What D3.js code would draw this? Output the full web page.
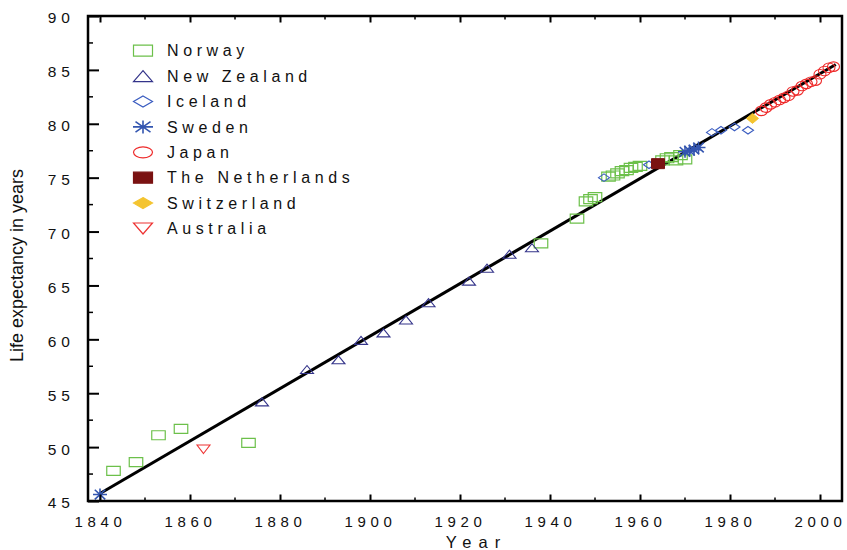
<!DOCTYPE html>
<html>
<head>
<meta charset="utf-8">
<script src="https://cdn.jsdelivr.net/npm/d3@7"></script>
<style>
  html, body { margin: 0; padding: 0; background: #fff; }
  svg { display: block; font-family: "Liberation Sans", Arial, sans-serif; }
</style>
</head>
<body>
<svg id="chart" width="847" height="550"></svg>
<script>
// Record female life expectancy: [calendar year, life expectancy in years]
const norway = [
  [1843, 47.8], [1848, 48.6], [1853, 51.1], [1858, 51.7], [1873, 50.4],
  [1938, 68.9], [1946, 71.2], [1948, 72.8], [1949, 73.0], [1950, 73.2],
  [1953, 75.1], [1954, 75.2], [1955, 75.4], [1956, 75.6], [1957, 75.7],
  [1958, 75.9], [1959, 76.0], [1960, 76.1], [1965, 76.6], [1966, 76.8],
  [1967, 76.9], [1968, 76.6], [1969, 77.1], [1970, 76.7]
];
const newZealand = [
  [1876, 54.2], [1886, 57.2], [1893, 58.1], [1898, 59.9], [1903, 60.6],
  [1908, 61.8], [1913, 63.4], [1922, 65.4], [1926, 66.6], [1931, 67.9],
  [1936, 68.5]
];
const iceland = [
  [1952, 75.0], [1962, 76.2], [1976, 79.2], [1978, 79.4], [1981, 79.7], [1984, 79.4]
];
const sweden = [
  [1840, 45.6], [1970, 77.4], [1971, 77.5], [1972, 77.6], [1973, 77.8]
];
const japan = [
  [1987, 81.2], [1988, 81.5], [1989, 81.8], [1990, 82.0], [1991, 82.2],
  [1992, 82.4], [1993, 82.6], [1994, 83.0], [1995, 83.1], [1996, 83.5],
  [1997, 83.7], [1998, 83.9], [1999, 84.0], [2000, 84.6], [2001, 84.9],
  [2002, 85.2], [2003, 85.3]
];
const netherlands = [[1964, 76.3]];
const switzerland = [[1985, 80.5]];
const australia = [[1863, 49.8]];

// Linear trend of the record values
const trend = [[1840, 45.7], [2003.5, 85.5]];

// Axis ticks
const xMajorTicks = [1840, 1860, 1880, 1900, 1920, 1940, 1960, 1980, 2000];
const xMinorTicks = [1850, 1870, 1890, 1910, 1930, 1950, 1970, 1990];
const yMajorTicks = [45, 50, 55, 60, 65, 70, 75, 80, 85, 90];
const yMinorTicks = [47.5, 52.5, 57.5, 62.5, 67.5, 72.5, 77.5, 82.5, 87.5];

const legendNames = ["Norway", "New Zealand", "Iceland", "Sweden", "Japan",
                     "The Netherlands", "Switzerland", "Australia"];

const series = [
  { data: norway,      shape: "square",  stroke: "#6cc04a", fill: "none",    w: 13.5, h: 9,   sw: 1.2 },
  { data: newZealand,  shape: "triUp",   stroke: "#34348a", fill: "none",    w: 13,   h: 8,   sw: 1.1 },
  { data: iceland,     shape: "diamond", stroke: "#3a5cc0", fill: "none",    w: 11,   h: 7.5, sw: 1.1 },
  { data: sweden,      shape: "star",    stroke: "#3355b0", fill: "none",    w: 14,   h: 12,  sw: 1.6 },
  { data: japan,       shape: "circle",  stroke: "#ee2a2a", fill: "none",    w: 12,   h: 9.5, sw: 1.1 },
  { data: netherlands, shape: "square",  stroke: "#7a1212", fill: "#7a1212", w: 13,   h: 10,  sw: 1 },
  { data: switzerland, shape: "diamond", stroke: "#f4c430", fill: "#f4c430", w: 12,   h: 10,  sw: 1 },
  { data: australia,   shape: "triDown", stroke: "#ee3333", fill: "none",    w: 13,   h: 8.5, sw: 1.1 }
];

const svg = d3.select("#chart");
const plot = { left: 88, right: 842, top: 16, bottom: 501 };

const x = d3.scaleLinear().domain([1837.333, 2004.889]).range([plot.left, plot.right]);
const y = d3.scaleLinear().domain([45, 90]).range([plot.bottom, plot.top]);

// Marker outlines with independent width / height
function markerPath(shape, w, h) {
  const a = w / 2, b = h / 2;
  switch (shape) {
    case "square":  return `M${-a},${-b}H${a}V${b}H${-a}Z`;
    case "triUp":   return `M0,${-b}L${a},${b}L${-a},${b}Z`;
    case "triDown": return `M0,${b}L${a},${-b}L${-a},${-b}Z`;
    case "diamond": return `M0,${-b}L${a},0L0,${b}L${-a},0Z`;
    case "circle":  return `M${-a},0A${a},${b} 0 1,0 ${a},0A${a},${b} 0 1,0 ${-a},0Z`;
    case "star": {
      const da = a * 0.75, db = b * 0.8;
      return `M${-a},0H${a}M0,${-b}V${b}M${-da},${-db}L${da},${db}M${-da},${db}L${da},${-db}`;
    }
  }
}

// Trend line
svg.append("path")
  .datum(trend)
  .attr("fill", "none")
  .attr("stroke", "#000")
  .attr("stroke-width", 3)
  .attr("d", d3.line().x(d => x(d[0])).y(d => y(d[1])));

// Data markers
series.forEach(s => {
  svg.append("g")
    .selectAll("path")
    .data(s.data)
    .join("path")
    .attr("transform", d => `translate(${x(d[0])},${y(d[1])})`)
    .attr("d", markerPath(s.shape, s.w, s.h))
    .attr("fill", s.fill)
    .attr("stroke", s.stroke)
    .attr("stroke-width", s.sw);
});

// Bottom axis (ticks pointing inward)
const xAxisG = svg.append("g")
  .attr("transform", `translate(0,${plot.bottom})`)
  .call(d3.axisBottom(x).tickValues(xMajorTicks).tickSize(-6.5).tickPadding(20).tickFormat(d3.format("d")));
xAxisG.select(".domain").remove();
xAxisG.selectAll(".tick line").attr("stroke", "#000").attr("stroke-width", 2);
xAxisG.selectAll(".tick text")
  .attr("y", 26)
  .attr("dy", null)
  .style("font-family", "'Liberation Sans', Arial, sans-serif")
  .style("font-size", "15px")
  .style("letter-spacing", "4.6px")
  .attr("fill", "#111");
svg.append("g").selectAll("line")
  .data(xMinorTicks).join("line")
  .attr("x1", d => x(d)).attr("x2", d => x(d))
  .attr("y1", plot.bottom).attr("y2", plot.bottom - 3.5)
  .attr("stroke", "#000").attr("stroke-width", 1.5);

// Top axis ticks
const xTopG = svg.append("g")
  .attr("transform", `translate(0,${plot.top})`)
  .call(d3.axisTop(x).tickValues(xMajorTicks).tickSize(-6.5).tickFormat(""));
xTopG.select(".domain").remove();
xTopG.selectAll(".tick line").attr("stroke", "#000").attr("stroke-width", 2);
svg.append("g").selectAll("line")
  .data(xMinorTicks).join("line")
  .attr("x1", d => x(d)).attr("x2", d => x(d))
  .attr("y1", plot.top).attr("y2", plot.top + 3.5)
  .attr("stroke", "#000").attr("stroke-width", 1.5);

// Left axis
const yAxisG = svg.append("g")
  .attr("transform", `translate(${plot.left},0)`)
  .call(d3.axisLeft(y).tickValues(yMajorTicks).tickSize(-11).tickPadding(13).tickFormat(d3.format("d")));
yAxisG.select(".domain").remove();
yAxisG.selectAll(".tick line").attr("stroke", "#000").attr("stroke-width", 2);
yAxisG.selectAll(".tick text")
  .attr("dy", "0.45em")
  .style("font-family", "'Liberation Sans', Arial, sans-serif")
  .style("font-size", "15.5px")
  .style("letter-spacing", "5px")
  .attr("fill", "#111");
svg.append("g").selectAll("line")
  .data(yMinorTicks).join("line")
  .attr("x1", plot.left).attr("x2", plot.left + 5)
  .attr("y1", d => y(d)).attr("y2", d => y(d))
  .attr("stroke", "#000").attr("stroke-width", 1.5);

// Frame
svg.append("rect")
  .attr("x", plot.left).attr("y", plot.top)
  .attr("width", plot.right - plot.left).attr("height", plot.bottom - plot.top)
  .attr("fill", "none").attr("stroke", "#000").attr("stroke-width", 2.5);

// Axis titles
svg.append("text")
  .attr("x", 476.5).attr("y", 548)
  .attr("text-anchor", "middle")
  .style("font-size", "16.5px")
  .style("letter-spacing", "7px")
  .attr("fill", "#111")
  .text("Year");

svg.append("text")
  .attr("transform", "translate(22.5,265.5) rotate(-90)")
  .attr("text-anchor", "middle")
  .style("font-size", "18px")
  .attr("fill", "#111")
  .text("Life expectancy in years");

// Legend
const legendSizes = series.map(s => s.shape === "star" ? [20, 13] : [19, 11]);
const legend = svg.append("g");
legendNames.forEach((name, i) => {
  const s = series[i];
  const cy = 50.7 + i * 25.4;
  legend.append("path")
    .attr("transform", `translate(143,${cy})`)
    .attr("d", markerPath(s.shape, legendSizes[i][0], legendSizes[i][1]))
    .attr("fill", s.fill)
    .attr("stroke", s.stroke)
    .attr("stroke-width", s.shape === "star" ? 1.6 : 1.2);
  legend.append("text")
    .attr("x", 167)
    .attr("y", cy + 5.7)
    .style("font-size", "16px")
    .style("letter-spacing", "4.6px")
    .attr("fill", "#111")
    .text(name);
});
</script>
</body>
</html>
